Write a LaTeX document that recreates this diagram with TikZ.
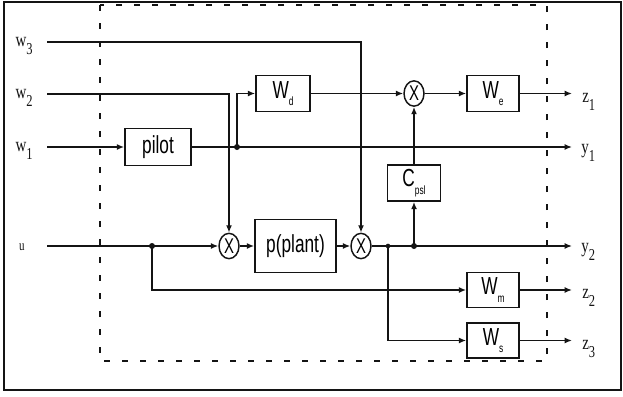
\documentclass[tikz,border=0pt]{standalone}
\usepackage{fontspec}
\setmainfont{Liberation Serif}
\newfontfamily\boxfont[FakeStretch=0.7]{Liberation Sans}
\newfontfamily\sigfont[FakeStretch=0.75]{Liberation Serif}
\usetikzlibrary{arrows.meta,shapes.geometric}
\definecolor{ink}{RGB}{20,20,20}
\newcommand{\sigl}[2]{#1\raisebox{-6pt}{\fontsize{12.5}{12.5}\selectfont #2}}
\newcommand{\blksub}[2]{#1\raisebox{-5.5pt}{\fontsize{9}{9}\selectfont #2}}
\tikzset{
  blk/.style={draw=ink, line width=1.3pt, minimum width=39pt, minimum height=27pt, inner sep=0pt, font=\boxfont\fontsize{18.5}{18.5}\selectfont},
  mult/.style={draw=ink, ellipse, line width=1.1pt, minimum width=15pt, minimum height=19pt, inner sep=0pt, font=\boxfont\fontsize{16}{16}\selectfont},
  sig/.style={text=ink, inner sep=0pt, font=\sigfont\fontsize{15}{15}\selectfont},
  wire/.style={draw=ink, line width=1.05pt},
  arr/.style={wire, -{Latex[length=5.5pt,width=4.5pt]}},
  dot/.style={circle, fill=ink, inner sep=0pt, minimum size=4.5pt},
}

\begin{document}
\begin{tikzpicture}[x=0.75pt,y=-0.75pt]
\useasboundingbox (0,0) rectangle (623,396);
% frame and plant boundary
\draw[ink, line width=1.5pt] (4,2) rectangle (621,390);
\draw[ink, line width=1pt, dash pattern=on 4.5pt off 9pt] (100,5) rectangle (547,361);

% signal names
\node[sig, anchor=base east] (w3) at (33,46) {\sigl{w}{3}};
\node[sig, anchor=base east] (w2) at (33,98) {\sigl{w}{2}};
\node[sig, anchor=base east] (w1) at (33,151) {\sigl{w}{1}};
\node[sig, anchor=base east, font=\sigfont\fontsize{11}{11}\selectfont] (u) at (25,250) {u};
\node[sig, anchor=base west] (z1) at (582,102) {\sigl{z}{1}};
\node[sig, anchor=base west] (y1) at (581,153) {\sigl{y}{1}};
\node[sig, anchor=base west] (y2) at (581,252) {\sigl{y}{2}};
\node[sig, anchor=base west] (z2) at (582,298) {\sigl{z}{2}};
\node[sig, anchor=base west] (z3) at (582,349) {\sigl{z}{3}};

\coordinate (w3in) at (47,42);
\coordinate (w2in) at (47,94);
\coordinate (w1in) at (47,147);
\coordinate (uin) at (47,246);
\coordinate (z1out) at (572,93.5);
\coordinate (y1out) at (572,147);
\coordinate (y2out) at (572,246);
\coordinate (z2out) at (572,290);
\coordinate (z3out) at (572,340.5);

% blocks
\node[blk, minimum width=49.5pt, minimum height=27.75pt] (pilot) at (158,147) {pilot};
\node[blk, minimum width=40.5pt] (Wd) at (283,93.5) {\blksub{W}{d}};
\node[blk] (We) at (493,93.5) {\blksub{W}{e}};
\node[blk, minimum width=39.75pt] (Csl) at (414,183) {\blksub{C}{psl}};
\node[blk, minimum width=60.75pt, minimum height=39.75pt] (plant) at (295.5,246) {p(plant)};
\node[blk, minimum height=26.25pt] (Wm) at (493,290) {\blksub{W}{m}};
\node[blk, minimum height=26.25pt] (Ws) at (493,340.5) {\blksub{W}{s}};

% multipliers
\node[mult] (m1) at (229,246) {X};
\node[mult] (m2) at (361,246) {X};
\node[mult] (m3) at (414,93.5) {X};

% junctions
\node[dot] (jw1) at (237,147) {};
\node[dot] (ju) at (152,246) {};
\node[dot, minimum size=3.5pt] (jy2a) at (388,246) {};
\node[dot] (jy2b) at (414,246) {};

% connections
\draw[arr] (w3in) -| (m2);
\draw[arr] (w2in) -| (m1);
\draw[arr] (w1in) -- (pilot);
\draw[arr] (pilot) -- (y1out);
\draw[arr] (jw1.center) |- (Wd);
\draw[arr] (Wd) -- (m3);
\draw[arr] (m3) -- (We);
\draw[arr] (We) -- (z1out);
\draw[arr] (uin) -- (m1);
\draw[arr] (ju.center) |- (Wm);
\draw[arr] (m1) -- (plant);
\draw[arr] (plant) -- (m2);
\draw[arr] (m2) -- (y2out);
\draw[arr] (jy2a.center) |- (Ws);
\draw[arr] (jy2b.center) -- (Csl);
\draw[arr] (Csl) -- (m3);
\draw[arr] (Wm) -- (z2out);
\draw[arr] (Ws) -- (z3out);
\end{tikzpicture}
\end{document}
